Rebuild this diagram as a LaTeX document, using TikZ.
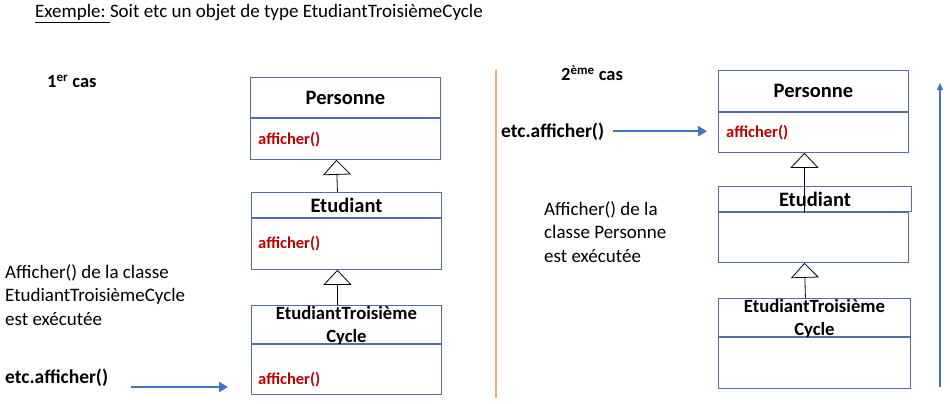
\documentclass[tikz,border=0pt]{standalone}
\usepackage{fontspec}
\setmainfont{Carlito}
\usepackage{tikz}
\usetikzlibrary{arrows.meta,positioning}
\definecolor{boxblue}{RGB}{84,110,160}
\definecolor{arrowblue}{RGB}{68,114,196}
\definecolor{methred}{RGB}{192,0,0}
\definecolor{sepline}{RGB}{244,170,120}
\tikzset{
  classhead/.style={draw=boxblue, line width=0.9pt, minimum width=190pt, inner sep=0pt, font=\fontsize{20.5}{22}\selectfont\bfseries},
  classbody/.style={draw=boxblue, line width=0.9pt, minimum width=190pt, inner sep=0pt},
  headtxt/.style={align=center, inner sep=0pt, font=\fontsize{18.7}{23}\selectfont\bfseries},
  meth/.style={anchor=base west, inner sep=0pt, text=methred, font=\fontsize{16.5}{18}\selectfont\bfseries},
  txt/.style={anchor=base west, inner sep=0pt, align=left, font=\fontsize{19}{23.3}\selectfont},
  call/.style={anchor=base west, inner sep=0pt, font=\fontsize{19.5}{23}\selectfont\bfseries},
  cas/.style={anchor=base west, inner sep=0pt, font=\fontsize{18.5}{20}\selectfont\bfseries},
  herit/.style={line width=0.8pt, -{Triangle[open,length=15pt,width=28pt]}},
  callarrow/.style={draw=arrowblue, line width=2.5pt, -{Triangle[length=9pt,width=10pt]}}
}

\begin{document}
\begin{tikzpicture}[x=1pt,y=-1pt]
\useasboundingbox (0,0) rectangle (950,404);

\node[txt] (title) at (35,18) {\underline{Exemple:\ }Soit etc un objet de type EtudiantTroisièmeCycle};

% 1er cas
\node[cas] (cas1) at (47,88) {1\textsuperscript{er} cas};
\node[classhead, minimum height=40pt, anchor=north west] (pers1) at (250,77) {Personne};
\node[classbody, minimum height=41pt, below=0pt of pers1] (pers1m) {};
\node[meth] at (258,144) {afficher()};
\node[classhead, minimum height=25pt, anchor=north west] (etu1) at (251,192) {Etudiant};
\node[classbody, minimum height=51pt, below=0pt of etu1] (etu1m) {};
\node[meth] at (258,248) {afficher()};
\node[classbody, minimum height=38pt, anchor=north west] (etc1) at (251,305) {};
\node[headtxt] at ([yshift=-1.5pt]etc1.center) {EtudiantTroisième\\Cycle};
\node[classbody, minimum height=50pt, below=0pt of etc1] (etc1m) {};
\node[meth] at (258,384) {afficher()};
\draw[herit] ([xshift=-9pt]etu1.north) -- ([xshift=-9pt]pers1m.south);
\draw[herit] ([xshift=-9pt]etc1.north) -- ([xshift=-9pt]etu1m.south);

% base of a multi-line node = its last line
\node[txt] (res1) at (5,325) {Afficher() de la classe\\EtudiantTroisièmeCycle\\est exécutée};
\node[call] (call1) at (5,383) {etc.afficher()};
\coordinate (a1s) at (131,387);
\coordinate (a1e) at (228,387);
\draw[callarrow] (a1s) -- (a1e);

% separation
\coordinate (septop) at (496,70);
\coordinate (sepbot) at (496,398);
\draw[sepline, line width=1.2pt] (septop) -- (sepbot);

% 2eme cas
\node[cas] (cas2) at (561,81) {2\textsuperscript{ème} cas};
\node[call] (call2) at (501,137) {etc.afficher()};
\node[txt] (res2) at (544,262) {Afficher() de la\\classe Personne\\est exécutée};
\node[classhead, minimum height=41pt, anchor=north west] (pers2) at (718,70) {Personne};
\node[classbody, minimum height=40pt, below=0pt of pers2] (pers2m) {};
\node[meth] at (726,137) {afficher()};
\node[classhead, minimum height=25pt, minimum width=193pt, anchor=north west] (etu2) at (718,186) {Etudiant};
\node[classbody, minimum height=50pt, anchor=north west] (etu2m) at (etu2.south west) {};
\node[classbody, minimum height=38pt, minimum width=192pt, anchor=north west] (etc2) at (718,298) {};
\node[headtxt] at ([yshift=-1.5pt]etc2.center) {EtudiantTroisième\\Cycle};
\node[classbody, minimum height=51pt, minimum width=192pt, below=0pt of etc2] (etc2m) {};
\draw[herit] ([xshift=-9pt]etu2m.north -| pers2m.south) -- ([xshift=-9pt]pers2m.south);
\draw[herit] ([xshift=-9pt]etc2.north) -- ([xshift=-9pt]etu2m.south);
\draw[callarrow] ([xshift=9pt]call2.east) -- ([xshift=-11pt]call2.east -| pers2m.west);

\coordinate (upb) at (940,387);
\coordinate (upt) at (940,83);
\draw[arrowblue, line width=1.3pt, -{Triangle[length=7pt,width=6pt]}] (upb) -- (upt);
\end{tikzpicture}
\end{document}
